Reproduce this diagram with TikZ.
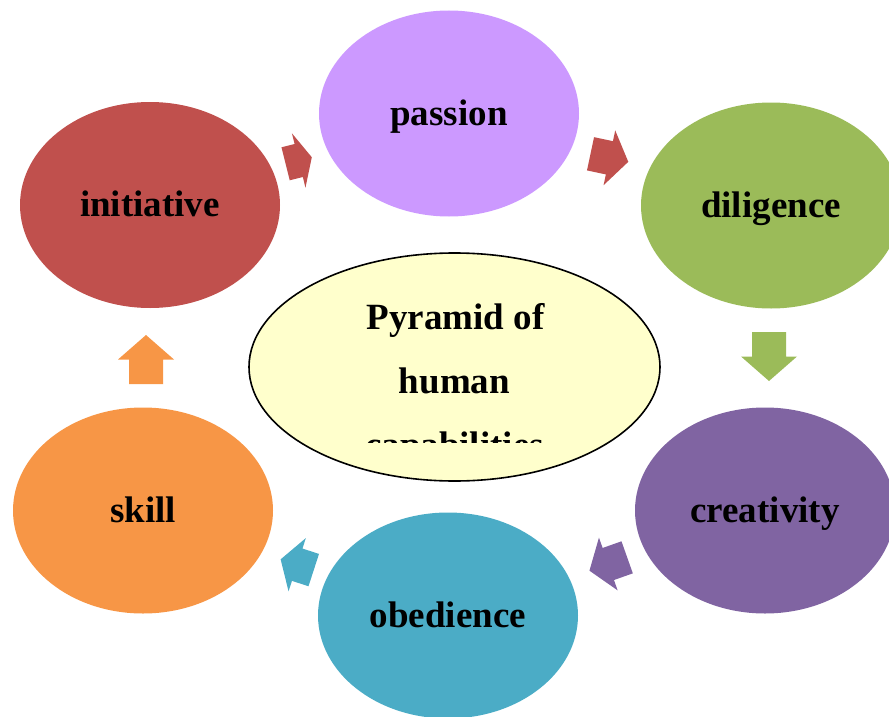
\documentclass[tikz,border=0pt]{standalone}
\usepackage{fontspec}
\setmainfont{Liberation Serif}
\usetikzlibrary{shapes.geometric}

\definecolor{cRed}{HTML}{C0504D}
\definecolor{cLilac}{HTML}{CC99FF}
\definecolor{cGreen}{HTML}{9BBB59}
\definecolor{cPurple}{HTML}{8064A2}
\definecolor{cBlue}{HTML}{4BACC6}
\definecolor{cOrange}{HTML}{F79646}
\definecolor{cCream}{HTML}{FFFFCC}

% block arrow: name, x, y, angle, length, colour
\newcommand\blockarrow[6]{%
  \coordinate (#1) at (#2,#3);
  \fill[#6, shift={(#1)}, rotate=#4]
    (-#5/2,-17) -- (0,-17) -- (0,-28) -- (#5/2,0) -- (0,28) -- (0,17) -- (-#5/2,17) -- cycle;
}

\begin{document}
\begin{tikzpicture}[x=1pt, y=-1pt,
  stage/.style={ellipse, draw=none, inner sep=0pt, outer sep=0pt,
    minimum width=260pt, minimum height=206pt,
    text height=23pt, text depth=0pt,
    font=\fontsize{37}{44}\selectfont\bfseries},
  hub/.style={ellipse, draw=black, line width=1.6pt, fill=cCream,
    inner sep=0pt, minimum width=411pt, minimum height=228pt},
  hubtext/.style={anchor=base, inner sep=0pt,
    font=\fontsize{37}{44}\selectfont\bfseries}]
\useasboundingbox (0,0) rectangle (889,717);
\clip (0,0) rectangle (889,717);

% ring of stages
\node[stage, fill=cLilac]  (passion)    at (449,113.5) {passion};
\node[stage, fill=cGreen]  (diligence)  at (771,205.5) {diligence};
\node[stage, fill=cPurple] (creativity) at (765,510.5) {creativity};
\node[stage, fill=cBlue]   (obedience)  at (448,615.5) {obedience};
\node[stage, fill=cOrange] (skill)      at (143,510.5) {skill};
\node[stage, fill=cRed]    (initiative) at (150,205)   {initiative};

% central ellipse
\node[hub] (hub) at (454.5,367) {};
\node[hubtext] (hub1) at (455.5,329) {Pyramid of};
\node[hubtext] (hub2) at (454.5,393) {human};
\begin{scope}
  \clip (249,253) rectangle (660,442);
  \node[hubtext] (hub3) at (454.5,457) {capabilities};
\end{scope}

% block arrows between the stages
\blockarrow{a1}{298.7}{160.5}{14}{27}{cRed}
\blockarrow{a2}{609.4}{157.8}{-12}{38.6}{cRed}
\blockarrow{a3}{769}{356.5}{-90}{49}{cGreen}
\blockarrow{a4}{608.3}{564}{199.5}{40}{cPurple}
\blockarrow{a5}{297.2}{564.7}{162}{34.8}{cBlue}
\blockarrow{a6}{146}{359.5}{90}{49}{cOrange}
\end{tikzpicture}
\end{document}
